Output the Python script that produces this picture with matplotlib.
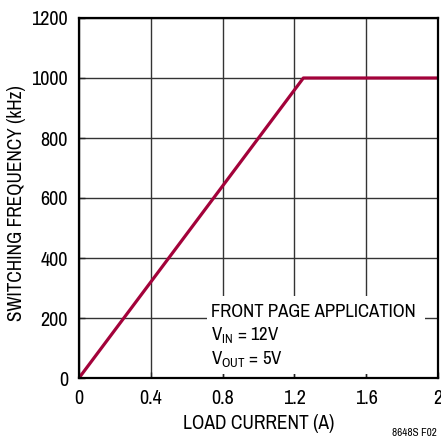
import matplotlib.pyplot as plt
from matplotlib.patches import Rectangle

# Switching frequency vs load current
load_current = [0, 1.25, 2.0]
frequency_khz = [0, 1000, 1000]

x_ticks = [0, 0.4, 0.8, 1.2, 1.6, 2.0]
x_tick_labels = ["0", "0.4", "0.8", "1.2", "1.6", "2"]
y_ticks = [0, 200, 400, 600, 800, 1000, 1200]

plt.rcParams["font.family"] = ["Archivo Narrow", "Liberation Sans", "DejaVu Sans"]
plt.rcParams["mathtext.fontset"] = "custom"
plt.rcParams["mathtext.rm"] = "Archivo Narrow"

fig = plt.figure(figsize=(4.41, 4.46), dpi=100)
ax = fig.add_axes([79 / 441, 68 / 446, 359 / 441, 360 / 446])

ax.set_xlim(0, 2)
ax.set_ylim(0, 1200)
ax.set_xticks(x_ticks)
ax.set_xticklabels(x_tick_labels)
ax.set_yticks(y_ticks)
ax.tick_params(direction="in", length=4, width=1, labelsize=14.5, color="#222222", pad=8)
ax.grid(True, color="#333333", linewidth=1.0)
ax.set_axisbelow(True)
for s in ax.spines.values():
    s.set_linewidth(1.6)
    s.set_zorder(5)

ax.plot(load_current, frequency_khz, color="#A3023A", linewidth=2.3,
        solid_capstyle="butt", zorder=4, clip_on=False)

# white panel behind the annotation
ax.add_patch(Rectangle((0.715, 15), 1.215, 257, facecolor="white",
                       edgecolor="none", zorder=2))
ax.text(0.735, 203, "FRONT PAGE APPLICATION", fontsize=13.5, va="baseline", zorder=3)
ax.text(0.735, 123, r"V$_\mathregular{IN}$ = 12V", fontsize=13.5, va="baseline", zorder=3)
ax.text(0.735, 43, r"V$_\mathregular{OUT}$ = 5V", fontsize=13.5, va="baseline", zorder=3)

ax.set_xlabel("LOAD CURRENT (A)", fontsize=14, labelpad=4)
ax.set_ylabel("SWITCHING FREQUENCY (kHz)", fontsize=13.9)
ax.yaxis.set_label_coords(-0.148, 0.485)

fig.text(437 / 441, 8 / 446, "8648S F02", fontsize=8, ha="right", va="bottom")

fig.savefig("out.png", dpi=100)
